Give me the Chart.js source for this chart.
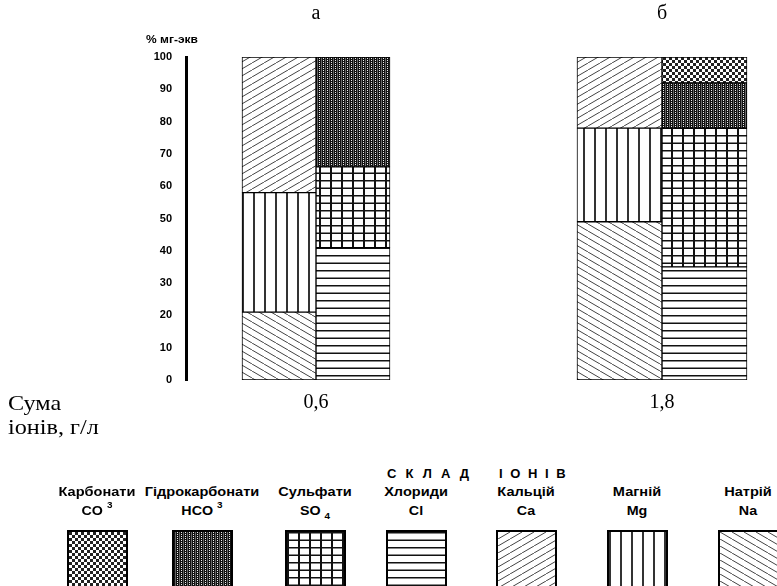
<!DOCTYPE html>
<html>
<head>
<meta charset="utf-8">
<script src="https://cdn.jsdelivr.net/npm/chart.js@4.4.1/dist/chart.umd.min.js"></script>
<style>
  html, body { margin: 0; padding: 0; background: #fff; }
  body { width: 777px; height: 586px; position: relative; overflow: hidden; font-family: "Liberation Sans", Arial, sans-serif; color: #000; }
  #wrap { position: absolute; left: 0; top: 0; width: 777px; height: 440px; }
  .lbl { position: absolute; white-space: pre; line-height: 1; }
  .serif { font-family: "Liberation Serif", "Times New Roman", serif; font-size: 22px; transform: scaleX(1.1); transform-origin: left; }
  .small { font-weight: bold; font-size: 13px; }
  .sup { font-size: 9px; position: relative; top: -7px; }
  .sub { font-size: 9px; position: relative; top: 4px; }
  .box { position: absolute; top: 530px; width: 57px; height: 62px; border: 2px solid #000; }
</style>
</head>
<body>
<div id="wrap"><canvas id="chart"></canvas></div>
<div class="lbl small" style="left:146px;top:35px;font-size:10px;transform:scaleX(1.2);transform-origin:left">% мг-экв</div>
<div class="lbl serif" style="left:8px;top:392px">Сума</div>
<div class="lbl serif" style="left:8px;top:416px">іонів, г/л</div>
<div class="lbl small" style="left:387px;top:467px;letter-spacing:2.8px">С К Л А Д</div>
<div class="lbl small" style="left:499px;top:467px;letter-spacing:2px">І О Н І В</div>
<div id="legend"></div>
<script>
const samples = ['а', 'б'];
const ionSums = ['0,6', '1,8'];
const yTicks = [0, 10, 20, 30, 40, 50, 60, 70, 80, 90, 100];

// катіони, % мг-екв, знизу вгору
const naValues = [21, 49];
const mgValues = [37, 29];
const caValues = [42, 22];
// аніони, % мг-екв, знизу вгору
const clValues = [41, 35];
const so4Values = [25, 43];
const hco3Values = [34, 14];
const co3Values = [0, 8];

const ionNames = ['Карбонати', 'Гідрокарбонати', 'Сульфати', 'Хлориди', 'Кальцій', 'Магній', 'Натрій'];
const ionFormulas = ['CO <span class="sup">3</span>', 'HCO <span class="sup">3</span>', 'SO <span class="sub">4</span>', 'Cl', 'Ca', 'Mg', 'Na'];
const ionKeys = ['co3', 'hco3', 'so4', 'cl', 'ca', 'mg', 'na'];

// bar positions on the hidden linear x axis
const xPos = [1, 2];
const barWidths = [74, 85];
const legendLeft = [67, 172, 285, 386, 496, 607, 718];

function makePattern(ctx, key) {
  const sizes = { ca: [12, 7], na: [12, 7], mg: [11, 4], cl: [4, 15], so4: [11, 15], hco3: [4, 4], co3: [6, 6] };
  const tile = document.createElement('canvas');
  tile.width = sizes[key][0];
  tile.height = sizes[key][1];
  const w = tile.width, h = tile.height;
  const t = tile.getContext('2d');
  t.fillStyle = '#fff';
  t.fillRect(0, 0, w, h);
  if (key === 'ca' || key === 'na') {
    t.strokeStyle = '#444';
    t.lineWidth = 1;
    for (const dx of [-w, 0, w]) {
      t.beginPath();
      if (key === 'ca') { t.moveTo(dx, h); t.lineTo(dx + w, 0); }
      else { t.moveTo(dx, 0); t.lineTo(dx + w, h); }
      t.stroke();
    }
  } else if (key === 'mg') {
    t.fillStyle = '#333';
    t.fillRect(0, 0, 2, h);
  } else if (key === 'cl' || key === 'so4') {
    t.fillStyle = '#111';
    t.fillRect(0, 0, w, 1.5);
    t.fillRect(0, 7.5, w, 1.5);
    if (key === 'so4') t.fillRect(0, 0, 2, h);
  } else if (key === 'hco3') {
    t.fillStyle = '#111';
    t.fillRect(0, 0, w, h);
    t.fillStyle = '#666';
    t.fillRect(1, 0, 1, h);
    t.fillStyle = '#eee';
    t.fillRect(3, 0, 1, 1);
    t.fillRect(3, 2, 1, 1);
  } else if (key === 'co3') {
    t.fillStyle = '#222';
    t.fillRect(0, 0, 3, 3);
    t.fillRect(3, 3, 3, 3);
  }
  return ctx.createPattern(tile, 'repeat');
}

const canvas = document.getElementById('chart');
const ctx = canvas.getContext('2d');
const patterns = {};
ionKeys.forEach(k => { patterns[k] = makePattern(ctx, k); });

const cationSeries = [['na', naValues], ['mg', mgValues], ['ca', caValues]];
const anionSeries = [['cl', clValues], ['so4', so4Values], ['hco3', hco3Values], ['co3', co3Values]];

const datasets = [];
samples.forEach((s, i) => {
  [['cat', cationSeries], ['an', anionSeries]].forEach(([group, series]) => {
    series.forEach(([key, values]) => {
      datasets.push({
        label: ionNames[ionKeys.indexOf(key)] + ' ' + s,
        stack: s + '-' + group,
        data: xPos.map((x, j) => ({ x, y: (j === i && values[j] > 0) ? values[j] : null })),
        backgroundColor: patterns[key],
        borderColor: '#000',
        borderWidth: 1,
        borderSkipped: false,
        barThickness: barWidths[i],
        skipNull: true
      });
    });
  });
});

const xMin = 0.6243;
const xMax = 2.3324;
const serifFont = { family: '"Liberation Serif", "Times New Roman", serif', size: 20 };

new Chart(canvas, {
  type: 'bar',
  data: { datasets },
  options: {
    responsive: true,
    maintainAspectRatio: false,
    animation: false,
    layout: { padding: 0 },
    plugins: { legend: { display: false }, tooltip: { enabled: false } },
    scales: {
      x: {
        type: 'linear',
        position: 'bottom',
        min: xMin,
        max: xMax,
        offset: false,
        grid: { display: false, drawTicks: false, offset: false },
        border: { display: false },
        afterBuildTicks: s => { s.ticks = xPos.map(v => ({ value: v })); },
        afterFit: s => { s.height = 60; },
        ticks: {
          callback: (v) => ionSums[xPos.indexOf(v)],
          font: serifFont,
          color: '#000',
          padding: 11,
          maxRotation: 0,
          autoSkip: false
        }
      },
      xTop: {
        type: 'linear',
        position: 'top',
        min: xMin,
        max: xMax,
        offset: false,
        grid: { display: false, drawTicks: false, offset: false },
        border: { display: false },
        afterBuildTicks: s => { s.ticks = xPos.map(v => ({ value: v })); },
        afterFit: s => { s.height = 57; },
        ticks: {
          callback: (v) => samples[xPos.indexOf(v)],
          font: serifFont,
          color: '#000',
          padding: 31,
          maxRotation: 0,
          autoSkip: false
        }
      },
      y: {
        stacked: true,
        min: 0,
        max: 100,
        afterBuildTicks: s => { s.ticks = yTicks.map(v => ({ value: v })); },
        afterFit: s => { s.width = 186; },
        grid: { display: false, drawTicks: false },
        border: { display: true, width: 3, color: '#000' },
        ticks: {
          font: { family: '"Liberation Sans", Arial, sans-serif', size: 11, weight: 'bold' },
          color: '#000',
          padding: 14
        }
      }
    }
  }
});

// legend under the chart
const legend = document.getElementById('legend');
ionNames.forEach((name, i) => {
  const cx = legendLeft[i] + 30;
  const title = document.createElement('div');
  title.className = 'lbl small';
  title.style.left = cx + 'px';
  title.style.top = '485px';
  title.style.transform = 'translateX(-50%) scaleX(1.12)';
  title.textContent = name;
  legend.appendChild(title);

  const formula = document.createElement('div');
  formula.className = 'lbl small';
  formula.style.left = cx + 'px';
  formula.style.top = '504px';
  formula.style.transform = 'translateX(-50%) scaleX(1.1)';
  formula.innerHTML = ionFormulas[i];
  legend.appendChild(formula);

  const box = document.createElement('canvas');
  box.className = 'box';
  box.width = 57;
  box.height = 62;
  box.style.left = legendLeft[i] + 'px';
  const bctx = box.getContext('2d');
  bctx.fillStyle = makePattern(bctx, ionKeys[i]);
  bctx.fillRect(0, 0, box.width, box.height);
  legend.appendChild(box);
});
</script>
</body>
</html>
